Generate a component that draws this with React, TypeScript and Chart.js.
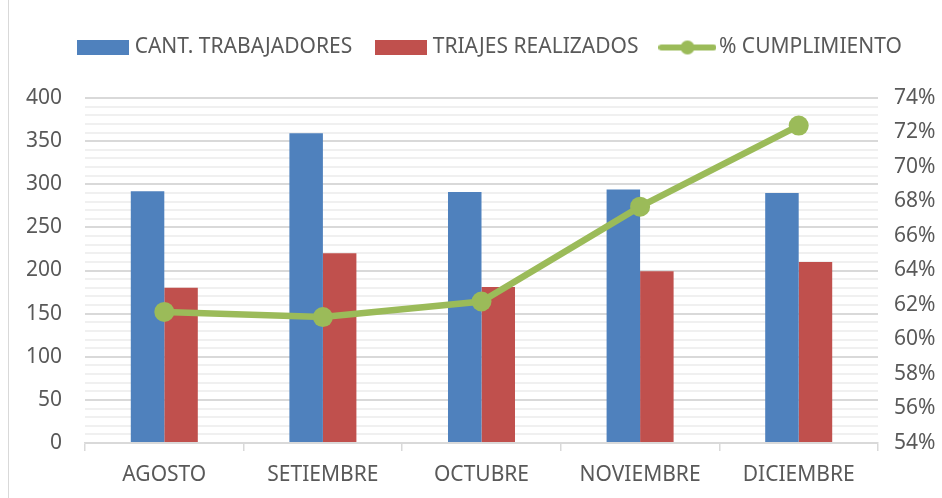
import React, { useEffect, useRef } from "react";
import { Chart, registerables } from "chart.js";

Chart.register(...registerables);

const categories = ["AGOSTO", "SETIEMBRE", "OCTUBRE", "NOVIEMBRE", "DICIEMBRE"];
const trabajadores = [292, 359, 291, 294, 290];
const triajes = [180, 220, 181, 199, 210];
const cumplimiento = [61.6, 61.3, 62.2, 67.7, 72.4];

const BLUE = "#4f81bd";
const RED = "#c0504d";
const GREEN = "#9bbb59";
const TEXT = "#595959";
const FONT = "'Noto Sans', sans-serif";

function rectIcon(color: string) {
  const c = document.createElement("canvas");
  c.width = 52;
  c.height = 15;
  const g = c.getContext("2d")!;
  g.fillStyle = color;
  g.fillRect(0, 0, 52, 15);
  return c;
}

function lineIcon(color: string) {
  const c = document.createElement("canvas");
  c.width = 58;
  c.height = 20;
  const g = c.getContext("2d")!;
  g.strokeStyle = color;
  g.lineWidth = 6;
  g.lineCap = "round";
  g.beginPath();
  g.moveTo(3, 10);
  g.lineTo(55, 10);
  g.stroke();
  g.fillStyle = color;
  g.beginPath();
  g.arc(29, 10, 7, 0, Math.PI * 2);
  g.fill();
  return c;
}

export default function App() {
  const ref = useRef<HTMLCanvasElement>(null);
  useEffect(() => {
    if (!ref.current) return;
    const icons = [rectIcon(BLUE), rectIcon(RED), lineIcon(GREEN)];
    const chart = new Chart(ref.current, {
      type: "bar",
      data: {
        labels: categories,
        datasets: [
          {
            type: "bar",
            label: "CANT. TRABAJADORES",
            data: trabajadores,
            backgroundColor: BLUE,
            yAxisID: "y",
            order: 1,
            barPercentage: 1,
            categoryPercentage: 0.4225,
          },
          {
            type: "bar",
            label: "TRIAJES REALIZADOS",
            data: triajes,
            backgroundColor: RED,
            yAxisID: "y",
            order: 1,
            barPercentage: 1,
            categoryPercentage: 0.4225,
          },
          {
            type: "line",
            label: "% CUMPLIMIENTO",
            data: cumplimiento,
            borderColor: GREEN,
            backgroundColor: GREEN,
            borderWidth: 6.5,
            pointRadius: 10,
            pointBackgroundColor: GREEN,
            pointBorderColor: GREEN,
            pointBorderWidth: 0,
            yAxisID: "y1",
            order: 0,
          } as any,
        ],
      },
      options: {
        responsive: false,
        animation: false,
        layout: { padding: { top: 9, left: 8, right: -34, bottom: 0 } },
        plugins: {
          tooltip: { enabled: false },
          legend: {
            position: "top",
            weight: 1000,
            labels: {
              usePointStyle: true,
              pointStyleWidth: 42,
              boxHeight: 15,
              padding: 28,
              color: TEXT,
              font: { family: FONT, size: 21 },
              generateLabels: (ch: any) =>
                ch.data.datasets.map((ds: any, i: number) => ({
                  text: ds.label,
                  fillStyle: ds.backgroundColor,
                  strokeStyle: ds.backgroundColor,
                  lineWidth: 0,
                  pointStyle: icons[i],
                  hidden: false,
                  datasetIndex: i,
                  fontColor: TEXT,
                })),
            },
          } as any,
          title: {
            display: true,
            text: "",
            weight: 500,
            font: { size: 1, lineHeight: 1 },
            padding: { top: 29, bottom: 0 },
          } as any,
        },
        scales: {
          x: {
            offset: true,
            grid: {
              offset: true,
              drawOnChartArea: false,
              drawTicks: true,
              tickLength: 8,
              color: "#d9d9d9",
              lineWidth: 1.5,
            },
            border: { color: "#d9d9d9", width: 1.5 },
            ticks: { color: TEXT, font: { family: FONT, size: 21 }, padding: 11 },
            afterFit: (s: any) => {
              s.height = 55;
            },
          },
          y: {
            position: "left",
            min: 0,
            max: 400,
            grid: {
              drawTicks: false,
              lineWidth: 2,
              color: (c: any) => (c.tick && c.tick.value % 50 === 0 ? "#d9d9d9" : "#f0f0f0"),
            },
            border: { display: false },
            ticks: {
              stepSize: 10,
              autoSkip: false,
              padding: 23,
              color: TEXT,
              font: { family: FONT, size: 21 },
              callback: (v: any) => (Number(v) % 50 === 0 ? String(v) : ""),
            },
            afterFit: (s: any) => {
              s.width = 77;
            },
          },
          y1: {
            position: "right",
            min: 54,
            max: 74,
            grid: { display: false, drawTicks: false },
            border: { display: false },
            ticks: {
              stepSize: 2,
              padding: 16,
              color: TEXT,
              font: { family: FONT, size: 21 },
              callback: (v: any) => `${v}%`,
            },
            afterFit: (s: any) => {
              s.width = 98;
            },
          },
        },
      },
    });
    return () => chart.destroy();
  }, []);
  return (
    <div style={{ position: "fixed", left: 0, top: 0, width: 942, height: 498, background: "#fff" }}>
      <div style={{ position: "absolute", left: 8, top: 0, width: 1, height: 498, background: "#d9d9d9" }} />
      <canvas ref={ref} width={942} height={498} style={{ display: "block", position: "absolute", left: 0, top: 0 }} />
    </div>
  );
}
